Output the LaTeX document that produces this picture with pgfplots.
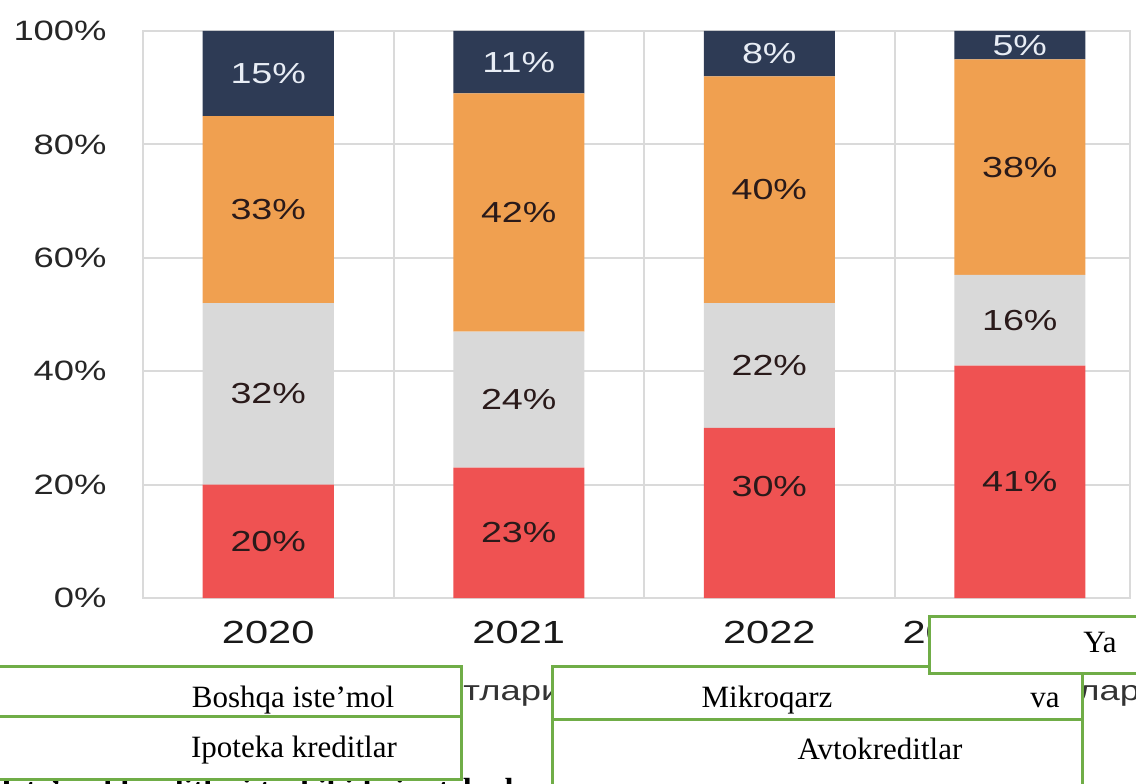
\documentclass[border=0pt]{standalone}
\usepackage{fontspec}
\setmainfont{Liberation Serif}
\newfontfamily\chartfont[FakeStretch=1.3]{Liberation Sans}
\usepackage{pgfplots}
\usepackage{pgfplotstable}
\pgfplotsset{compat=1.18}
\definecolor{cred}{HTML}{EF5252}
\definecolor{cgrey}{HTML}{D9D9D9}
\definecolor{corange}{HTML}{F0A050}
\definecolor{cnavy}{HTML}{2E3B55}
\definecolor{gridc}{HTML}{DADADA}
\definecolor{boxgreen}{HTML}{70AD47}
\definecolor{lbldark}{HTML}{2A1A1A}
\definecolor{lbllight}{HTML}{E8EDF5}

\pgfplotstableread{
x y off
0 20 0
1 23 0
2 30 26
3 41 0
}\tred
\pgfplotstableread{
x y off
0 32 0
1 24 0
2 22 0
3 16 0
}\tgrey
\pgfplotstableread{
x y off
0 33 0
1 42 0
2 40 0
3 38 0
}\torange
\pgfplotstableread{
x y off
0 15 0
1 11 0
2 8 0
3 5 0
}\tnavy

\begin{document}
\begin{tikzpicture}
\useasboundingbox (0,0) rectangle (568pt,391.5pt);
\clip (0,0) rectangle (568pt,391.5pt);
\begin{axis}[
  at={(71.5pt,92.5pt)}, anchor=south west,
  scale only axis, width=493.5pt, height=283.5pt,
  xmin=-0.5, xmax=3.44, ymin=0, ymax=100,
  ybar stacked, bar width=0.523,
  axis line style={draw=gridc, line width=1pt},
  major tick length=0pt, minor tick length=0pt,
  ytick={0,20,40,60,80,100},
  yticklabels={0\%,20\%,40\%,60\%,80\%,100\%},
  yticklabel style={font=\chartfont\fontsize{14}{14}\selectfont, text=black!85, inner sep=0pt, xshift=-18pt},
  xtick={0,1,2,2.717},
  xticklabels={2020,2021,2022,2023},
  xticklabel style={font=\chartfont\fontsize{16}{16}\selectfont, text=black!90, inner sep=0pt, yshift=-11.5pt},
  minor xtick={-0.5,0.5,1.5,2.5},
  ymajorgrids, xminorgrids,
  grid style={draw=gridc, line width=1pt},
  minor grid style={draw=gridc, line width=1pt},
  point meta=explicit,
  nodes near coords={\pgfmathprintnumber[assume math mode=true]{\pgfplotspointmeta}\%},
  visualization depends on={\thisrow{off} \as \lbloff},
  every node near coord/.append style={anchor=center, font=\chartfont\fontsize{14.5}{14.5}\selectfont, yshift={\lbloff*0.5pt}},
]
\addplot[fill=cred, draw=none, nodes near coords style={text=lbldark}] table[x=x, y=y, meta=y] {\tred};
\addplot[fill=cgrey, draw=none, nodes near coords style={text=lbldark}] table[x=x, y=y, meta=y] {\tgrey};
\addplot[fill=corange, draw=none, nodes near coords style={text=lbldark}] table[x=x, y=y, meta=y] {\torange};
\addplot[fill=cnavy, draw=none, nodes near coords style={text=lbllight}] table[x=x, y=y, meta=y] {\tnavy};
\end{axis}
\begin{scope}[x=0.5pt, y=-0.5pt, shift={(0pt,391.5pt)}]
  % partly hidden text behind the boxes
  \node[anchor=base west, inner sep=0pt, font=\bfseries\fontsize{16}{16}\selectfont] at (0,800) {Iste’mol kreditlari tarkibida ipoteka kreditlari ulushi};
  \node[anchor=base west, inner sep=0pt, text=black!80, font=\chartfont\fontsize{14}{14}\selectfont] at (463,700) {тлари};
  \node[anchor=base west, inner sep=0pt, text=black!80, font=\chartfont\fontsize{14}{14}\selectfont] at (1078,700) {лар};
  % text boxes
  \tikzset{gbox/.style={draw=boxgreen, line width=1.5pt, fill=white}}
  \draw[gbox] (-5,666) rectangle (461,716);
  \draw[gbox] (-5,716) rectangle (461,779);
  \draw[gbox] (552,666) rectangle (1082,719);
  \draw[gbox] (552,719) rectangle (1082,800);
  \draw[gbox] (929,616) rectangle (1150,673);
  \tikzset{btxt/.style={anchor=base, inner sep=0pt, font=\fontsize{15.5}{15.5}\selectfont}}
  \node[btxt] at (293,707) {Boshqa iste’mol};
  \node[btxt] at (294,757) {Ipoteka kreditlar};
  \node[btxt] at (767,707) {Mikroqarz};
  \node[btxt] at (1045,707) {va};
  \node[btxt] at (880,759) {Avtokreditlar};
  \node[btxt] at (1100,652) {Ya};
\end{scope}
\end{tikzpicture}
\end{document}
